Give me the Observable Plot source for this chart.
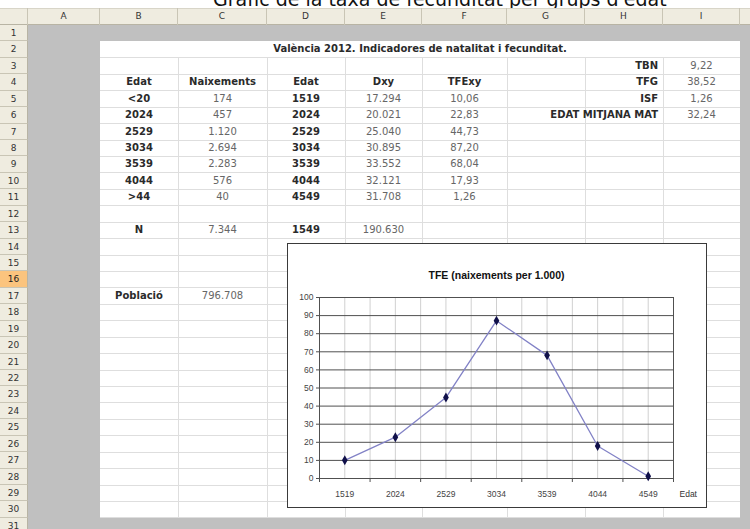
<!DOCTYPE html>
<html>
<head>
<meta charset="utf-8">
<script src="https://cdn.jsdelivr.net/npm/d3@7"></script>
<script src="https://cdn.jsdelivr.net/npm/@observablehq/plot@0.6"></script>
<style>
  html, body { margin: 0; padding: 0; background: #fff; }
  #page { position: relative; width: 750px; height: 529px; overflow: hidden; background: #fff; font-family: "DejaVu Sans", Verdana, sans-serif; }
  .abs { position: absolute; box-sizing: border-box; }
  .cell { position: absolute; white-space: nowrap; font-size: 10px; overflow: visible; }
  .hdr { position: absolute; box-sizing: border-box; background: #f1efe4; color: #333; font-size: 9px; text-align: center; }
</style>
</head>
<body>
<div id="page"></div>
<script>
// ---------- data ----------
const pageTitle = "Gràfic de la taxa de fecunditat per grups d'edat";
const tableTitle = "València 2012. Indicadores de natalitat i fecunditat.";
const headers = ["Edat", "Naixements", "Edat", "Dxy", "TFExy"];
const ageGroups = ["<20", "2024", "2529", "3034", "3539", "4044", ">44"];
const births = [174, 457, 1120, 2694, 2283, 576, 40];
const groups = ["1519", "2024", "2529", "3034", "3539", "4044", "4549"];
const women = [17294, 20021, 25040, 30895, 33552, 32121, 31708];
const tfe = [10.06, 22.83, 44.73, 87.20, 68.04, 17.93, 1.26];
const indicatorLabels = ["TBN", "TFG", "ISF", "EDAT MITJANA MAT"];
const indicatorValues = [9.22, 38.52, 1.26, 32.24];
const totalLabel = "N";
const totalBirths = 7344;
const totalGroup = "1549";
const totalWomen = 190630;
const populationLabel = "Població";
const population = 796708;
const chartTitle = "TFE (naixements per 1.000)";
const xLabel = "Edat";
const yTicks = [0, 10, 20, 30, 40, 50, 60, 70, 80, 90, 100];
const columnLetters = ["A", "B", "C", "D", "E", "F", "G", "H", "I"];

// ---------- layout ----------
const colEdges = [28, 100, 178, 267, 345, 422, 507, 585, 663, 740, 800];
const headerTop = 8, headerH = 17, rowH = 16.43, firstRowTop = 25, nRows = 31;
const rowTop = n => firstRowTop + (n - 1) * rowH;
const colIdx = L => columnLetters.indexOf(L);
const colL = L => colEdges[colIdx(L)];
const colR = L => colEdges[colIdx(L) + 1];

const loc = d3.formatLocale({decimal: ",", thousands: ".", grouping: [3], currency: ["", ""]});
const fInt = loc.format(",d");
const f2 = loc.format(".2f");

const page = document.getElementById("page");
function box(x, y, w, h, style) {
  const d = document.createElement("div");
  d.className = "abs";
  Object.assign(d.style, {left: x + "px", top: y + "px", width: w + "px", height: h + "px"}, style || {});
  page.appendChild(d);
  return d;
}
function put(c1, c2, row, text, opts = {}) {
  const d = document.createElement("div");
  d.className = "cell";
  const x1 = colL(c1), x2 = colR(c2);
  Object.assign(d.style, {
    left: x1 + "px", width: (x2 - x1) + "px", top: rowTop(row) + "px", height: rowH + "px",
    lineHeight: rowH + "px", textAlign: opts.align || "center",
    fontWeight: opts.bold ? "bold" : "normal",
    color: opts.bold ? "#2a2a2a" : "#666",
    paddingRight: opts.align === "right" ? "5px" : "0", boxSizing: "border-box"
  });
  d.textContent = text;
  page.appendChild(d);
}

// page title (clipped at top, as in the reference)
const t = box(213, -11, 540, 20, {fontSize: "19px", lineHeight: "20px", color: "#111", whiteSpace: "nowrap", fontFamily: "'DejaVu Sans', sans-serif"});
t.textContent = pageTitle;

// grey sheet background
box(28, firstRowTop, 750 - 28, 529 - firstRowTop, {background: "#c0c0c0"});
// white table area
const wTop = rowTop(2), wBot = rowTop(31);
box(colEdges[1], wTop, colEdges[9] - colEdges[1], wBot - wTop, {background: "#fff"});
// grid lines
for (let r = 3; r <= 31; r++) box(colEdges[1], rowTop(r) - 0.5, colEdges[9] - colEdges[1], 1, {background: "#dedede"});
for (let k = 2; k <= 8; k++) box(colEdges[k] - 0.5, rowTop(3), 1, wBot - rowTop(3), {background: "#dedede"});

// column header bar
box(0, headerTop, 750, headerH, {background: "#efece0", borderBottom: "1px solid #b8b4a4", borderTop: "1px solid #d8d5c8"});
columnLetters.forEach((L, i) => {
  const h = document.createElement("div");
  h.className = "hdr";
  Object.assign(h.style, {left: colEdges[i] + "px", top: headerTop + "px", width: (colEdges[i + 1] - colEdges[i]) + "px", height: headerH + "px", lineHeight: headerH + "px", borderRight: "1px solid #c9c5b5", background: "transparent"});
  h.textContent = L;
  page.appendChild(h);
});
box(27, headerTop, 1, headerH, {background: "#c9c5b5"});
// row headers
for (let r = 1; r <= nRows; r++) {
  const h = document.createElement("div");
  h.className = "hdr";
  Object.assign(h.style, {left: "0px", top: rowTop(r) + "px", width: "28px", height: rowH + "px", lineHeight: rowH + "px", borderBottom: "1px solid #c9c5b5", borderRight: "1px solid #b8b4a4", background: r === 16 ? "#fbc47e" : "#efece0", color: r === 16 ? "#222" : "#333"});
  h.textContent = r;
  page.appendChild(h);
}

// table contents
put("B", "I", 2, tableTitle, {bold: true});
["B", "C", "D", "E", "F"].forEach((c, i) => put(c, c, 4, headers[i], {bold: true}));
ageGroups.forEach((a, i) => {
  put("B", "B", 5 + i, a, {bold: true});
  put("C", "C", 5 + i, fInt(births[i]));
  put("D", "D", 5 + i, groups[i], {bold: true});
  put("E", "E", 5 + i, fInt(women[i]));
  put("F", "F", 5 + i, f2(tfe[i]));
});
indicatorLabels.forEach((l, i) => {
  put(i === 3 ? "G" : "H", "H", 3 + i, l, {bold: true, align: "right"});
  put("I", "I", 3 + i, f2(indicatorValues[i]));
});
put("B", "B", 13, totalLabel, {bold: true});
put("C", "C", 13, fInt(totalBirths));
put("D", "D", 13, totalGroup, {bold: true});
put("E", "E", 13, fInt(totalWomen));
put("B", "B", 17, populationLabel, {bold: true});
put("C", "C", 17, fInt(population));

// ---------- chart ----------
const cx = 287, cy = 243, cw = 420, ch = 265;
const idx = groups.map((g, i) => i);
const halfSteps = d3.range(0, groups.length * 2 + 1).map(k => k / 2 - 0.5);
const bounds = d3.range(0, groups.length + 1).map(k => k - 0.5);
const chart = Plot.plot({
  width: cw, height: ch,
  marginLeft: 32, marginRight: 34, marginTop: 54, marginBottom: 30,
  style: {background: "#fff", fontFamily: "'Liberation Sans', Arial, sans-serif", fontSize: "8.5px", color: "#333", overflow: "visible"},
  x: {domain: [-0.5, groups.length - 0.5], axis: null},
  y: {domain: [0, 100], axis: null},
  marks: [
    Plot.gridX(halfSteps, {stroke: "#d0d0d0", strokeOpacity: 1}),
    Plot.gridY(yTicks, {stroke: "#505050", strokeOpacity: 1}),
    Plot.frame({stroke: "#505050"}),
    Plot.axisY(yTicks, {tickSize: 3, tickPadding: 3, stroke: "#505050", fill: "#444"}),
    Plot.axisX(bounds, {tickSize: 4, tickFormat: () => "", stroke: "#505050"}),
    Plot.axisX(idx, {tickSize: 0, tickPadding: 12, tickFormat: i => groups[i], fill: "#444"}),
    Plot.line(tfe, {x: (d, i) => i, y: d => d, stroke: "#8282c6", strokeWidth: 1.3}),
    Plot.dot(tfe, {x: (d, i) => i, y: d => d, symbol: "diamond", r: 3, fill: "#10104a", stroke: "none"}),
    Plot.text([chartTitle], {frameAnchor: "top", lineAnchor: "middle", dy: -22, fontWeight: "bold", fontSize: 10.5, fill: "#111"}),
    Plot.text([xLabel], {frameAnchor: "bottom-right", lineAnchor: "middle", textAnchor: "start", dx: 6, dy: 16, fill: "#333", fontSize: 8.5})
  ]
});
const holder = box(cx, cy, cw, ch, {background: "#fff"});
holder.appendChild(chart);
chart.style.display = "block";
box(cx, cy, cw, ch, {border: "1px solid #3a3a3a"});
</script>
</body>
</html>
